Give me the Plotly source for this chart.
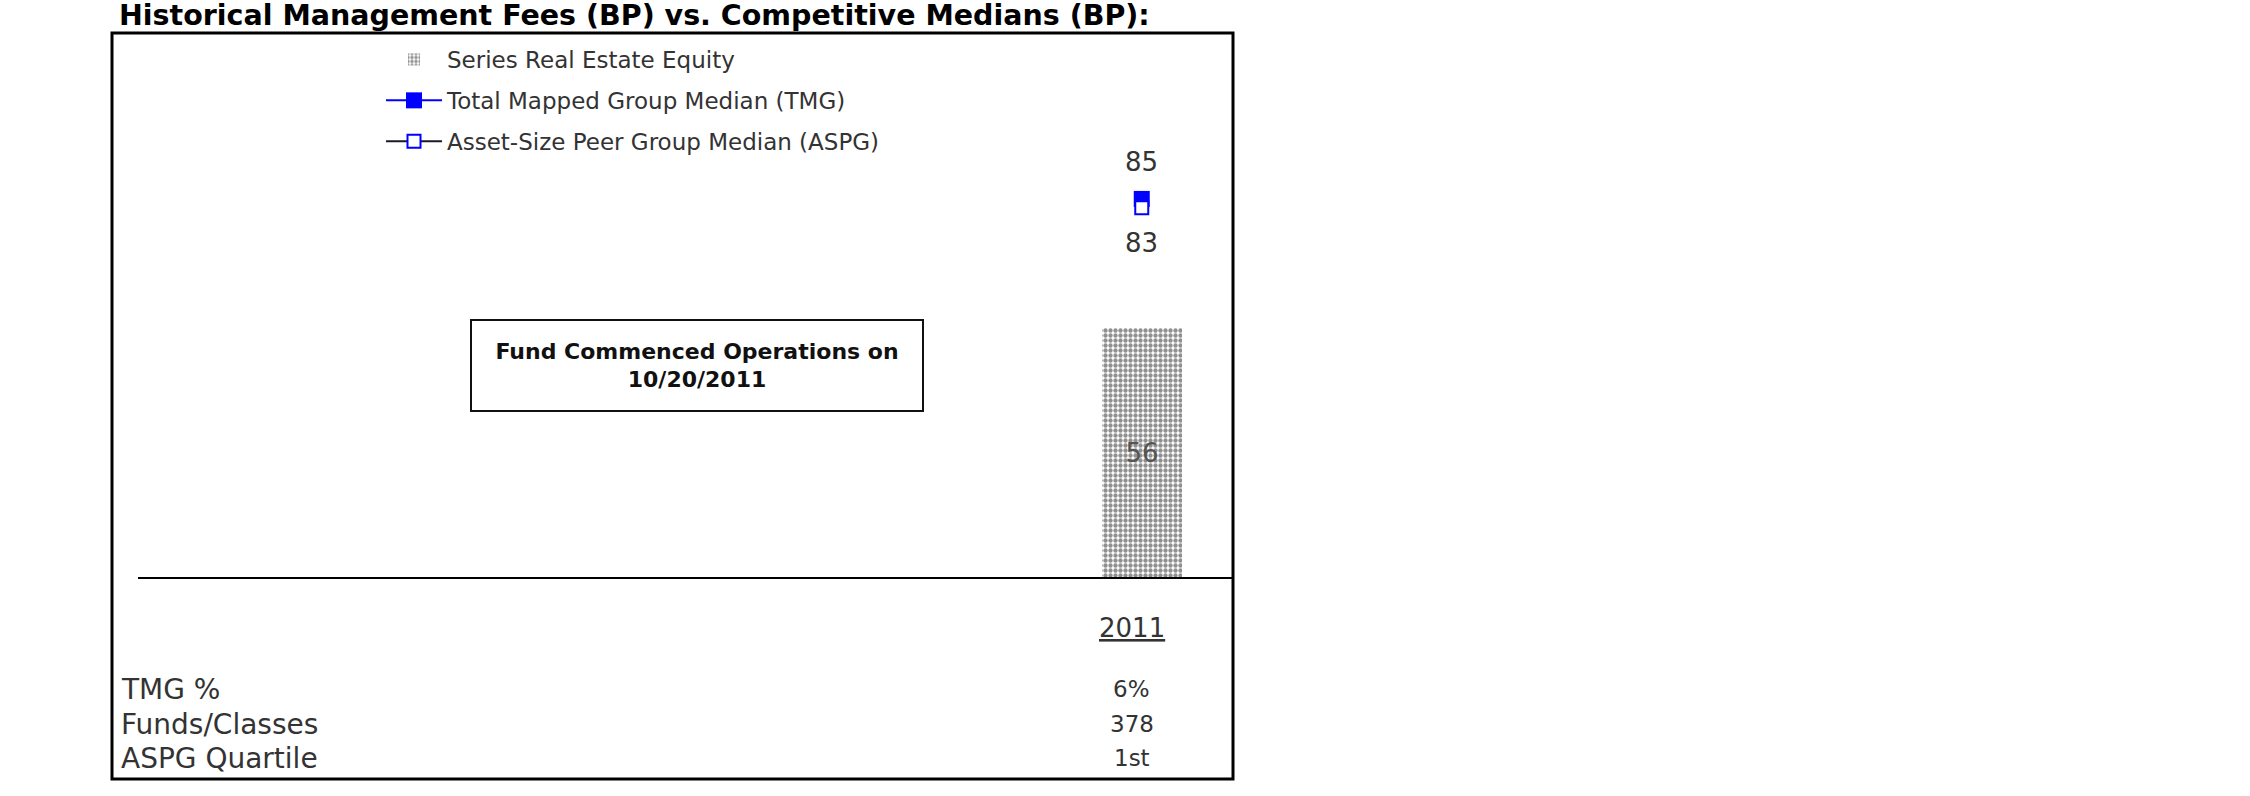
import plotly.graph_objects as go

# ---- data ----
years = [2011]
fund_fees = [56]          # Series Real Estate Equity (BP)
tmg_median = [85]         # Total Mapped Group Median (BP)
aspg_median = [83]        # Asset-Size Peer Group Median (BP)
table_rows = ["TMG %", "Funds/Classes", "ASPG Quartile"]
table_vals = [["6%"], ["378"], ["1st"]]
note_text = "Fund Commenced Operations on<br>10/20/2011"
title_text = "Historical Management Fees (BP) vs. Competitive Medians (BP):"

FONT = "DejaVu Sans"
W, H = 2250, 796
L, R, T, B = 138, 1233, 33, 577   # plot area pixels
pw, ph = R - L, B - T

def px_x(x):
    return (x - L) / pw

def px_y(y):
    return (B - y) / ph

fig = go.Figure()

fig.add_trace(go.Bar(
    x=years, y=fund_fees, name="Series Real Estate Equity",
    width=0.44, legendgroup="a",
    marker=dict(color="white", line=dict(width=0),
                pattern=dict(shape=".", fgcolor="#222222", bgcolor="white",
                             size=5, solidity=0.6)),
    texttemplate="%{y}", textposition="inside", insidetextanchor="middle",
    textangle=0, textfont=dict(family=FONT, size=26, color="#555555"),
))
fig.add_trace(go.Scatter(
    x=years, y=tmg_median, name="Total Mapped Group Median (TMG)",
    mode="lines+markers", legendgroup="b",
    line=dict(color="#0000ff", width=2),
    marker=dict(symbol="square", size=16, color="#0000ff"),
))
fig.add_trace(go.Scatter(
    x=years, y=aspg_median, name="Asset-Size Peer Group Median (ASPG)",
    mode="lines+markers", legendgroup="c",
    line=dict(color="#1a1a2a", width=2),
    marker=dict(symbol="square", size=13, color="white",
                line=dict(color="#0000ff", width=2)),
))

annotations = []
# value labels for medians
for yr, v in zip(years, tmg_median):
    annotations.append(dict(x=yr, y=v, xref="x", yref="y", text=str(v),
                            showarrow=False, yshift=37,
                            font=dict(family=FONT, size=26, color="#333333")))
for yr, v in zip(years, aspg_median):
    annotations.append(dict(x=yr, y=v, xref="x", yref="y", text=str(v),
                            showarrow=False, yshift=-35,
                            font=dict(family=FONT, size=26, color="#333333")))

# note box
annotations.append(dict(x=px_x(697), y=px_y(365), xref="paper", yref="paper",
                        xanchor="center", yanchor="middle",
                        text="<b>" + note_text + "</b>", showarrow=False,
                        width=450, height=89, align="center", valign="middle",
                        bordercolor="#111111", borderwidth=2, borderpad=0,
                        bgcolor="white",
                        font=dict(family=FONT, size=22, color="#111111")))

# table under chart
for yr in years:
    annotations.append(dict(x=yr, y=px_y(628), xref="x", yref="paper",
                            xanchor="center", yanchor="middle", xshift=-10,
                            text="<u>" + str(yr) + "</u>", showarrow=False,
                            font=dict(family=FONT, size=26, color="#333333")))
row_y = [689, 724, 758]
for lab, vals, yy in zip(table_rows, table_vals, row_y):
    annotations.append(dict(x=px_x(119), y=px_y(yy), xref="paper", yref="paper",
                            text=lab, showarrow=False, xanchor="left",
                            yanchor="middle",
                            font=dict(family=FONT, size=28, color="#333333")))
    for yr, v in zip(years, vals):
        annotations.append(dict(x=yr, y=px_y(yy), xref="x", yref="paper",
                                xanchor="center", yanchor="middle", xshift=-10,
                                text=v, showarrow=False,
                                font=dict(family=FONT, size=23, color="#333333")))

shapes = [dict(type="rect", xref="paper", yref="paper",
               x0=px_x(112), x1=px_x(1233), y0=px_y(779), y1=px_y(33),
               line=dict(color="black", width=3), layer="above")]

fig.update_layout(
    width=W, height=H,
    margin=dict(l=L, r=W - R, t=T, b=H - B, pad=0),
    paper_bgcolor="white", plot_bgcolor="white",
    title=dict(text="<b>" + title_text + "</b>", xref="container", yref="container",
               x=119 / W, xanchor="left", y=1 - 15 / H, yanchor="middle",
               font=dict(family=FONT, size=28.5, color="black")),
    xaxis=dict(range=[2005.5, 2011.5], showticklabels=False, showgrid=False,
               zeroline=False, showline=True, linecolor="black", linewidth=2,
               ticks=""),
    yaxis=dict(range=[0, 122.3], visible=False),
    showlegend=True,
    legend=dict(x=px_x(381), y=px_y(38), xanchor="left", yanchor="top",
                bgcolor="rgba(0,0,0,0)", traceorder="grouped",
                tracegroupgap=8, itemwidth=56,
                font=dict(family=FONT, size=23, color="#333333")),
    annotations=annotations, shapes=shapes,
    bargap=0,
)

fig.write_html("out.html")
